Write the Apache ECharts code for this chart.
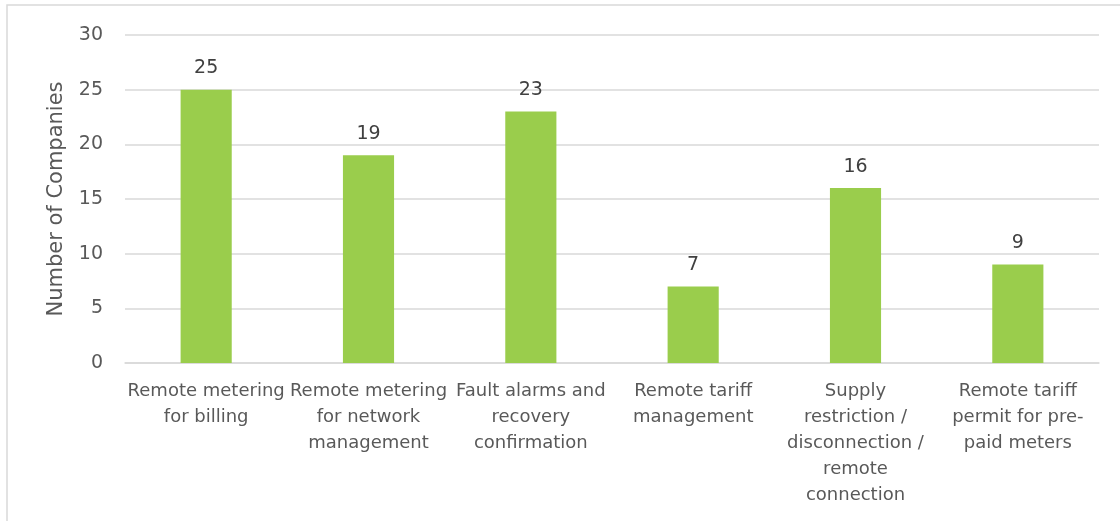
<!DOCTYPE html>
<html>
<head>
<meta charset="utf-8">
<script src="https://cdn.jsdelivr.net/npm/echarts@6/dist/echarts.min.js"></script>
<style>
  html, body { margin: 0; padding: 0; background: #fff; }
  #main { width: 1120px; height: 521px; }
</style>
</head>
<body>
<div id="main"></div>
<script>
// categories (wrapped as in the picture)
var categories = [
  'Remote metering\nfor billing',
  'Remote metering\nfor network\nmanagement',
  'Fault alarms and\nrecovery\nconfirmation',
  'Remote tariff\nmanagement',
  'Supply\nrestriction /\ndisconnection /\nremote\nconnection',
  'Remote tariff\npermit for pre-\npaid meters'
];
var companies = [25, 19, 23, 7, 16, 9];

var textColor = '#595959';
var fontFam = '"DejaVu Sans", sans-serif';

var myChart = echarts.init(document.getElementById('main'));
var option = {
  backgroundColor: '#fff',
  animation: false,
  graphic: [{
    type: 'rect',
    shape: { x: 7, y: 5, width: 1200, height: 540 },
    style: { fill: 'none', stroke: '#d9d9d9', lineWidth: 1.5 },
    silent: true
  }],
  grid: { left: 125, right: 21, top: 35, bottom: 158 },
  xAxis: {
    type: 'category',
    data: categories,
    axisLine: { lineStyle: { color: '#d9d9d9', width: 1.5 } },
    axisTick: { show: false },
    axisLabel: {
      interval: 0,
      color: textColor,
      fontFamily: fontFam,
      fontSize: 18,
      lineHeight: 26,
      margin: 15
    }
  },
  yAxis: {
    type: 'value',
    min: 0,
    max: 30,
    interval: 5,
    name: 'Number of Companies',
    nameLocation: 'middle',
    nameGap: 58,
    nameTextStyle: { color: textColor, fontFamily: fontFam, fontSize: 21 },
    axisLine: { show: false },
    axisTick: { show: false },
    splitLine: { lineStyle: { color: '#d9d9d9', width: 1.5 } },
    axisLabel: { color: textColor, fontFamily: fontFam, fontSize: 19, margin: 22 }
  },
  series: [{
    type: 'bar',
    data: companies,
    barWidth: '31.5%',
    itemStyle: { color: '#9ACD4C' },
    label: {
      show: true,
      position: 'top',
      distance: 12,
      color: '#404040',
      fontFamily: fontFam,
      fontSize: 19
    }
  }]
};
myChart.setOption(option);
</script>
</body>
</html>
